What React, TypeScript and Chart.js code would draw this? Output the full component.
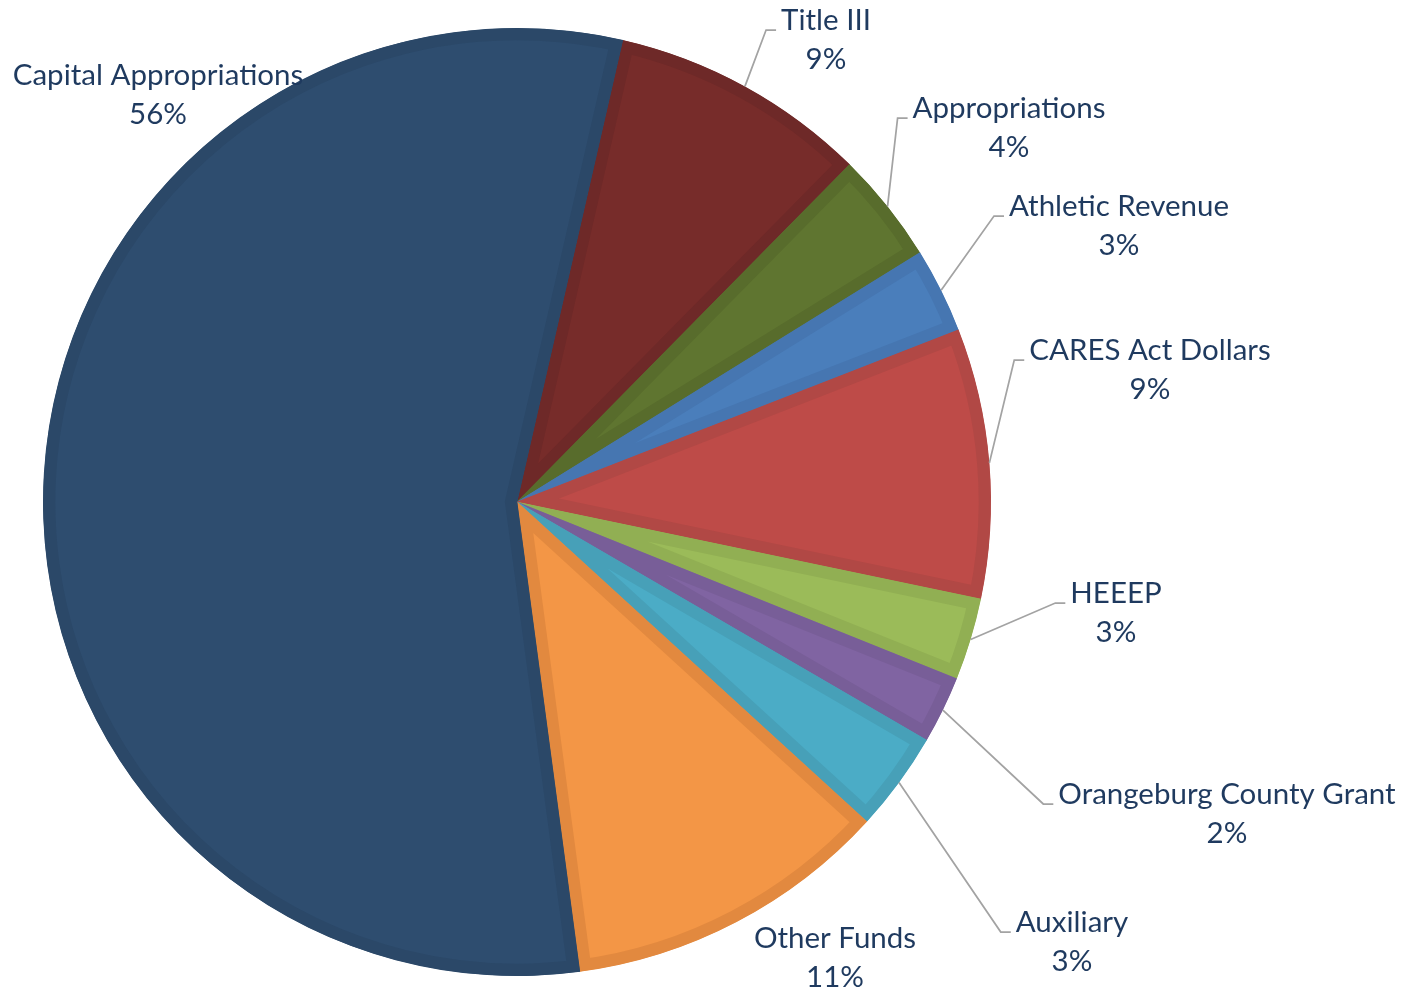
import React, { useEffect, useRef } from "react";
import { Chart, registerables } from "chart.js";

Chart.register(...registerables);

// ---- data ----
const categories = [
  "Title III",
  "Appropriations",
  "Athletic Revenue",
  "CARES Act Dollars",
  "HEEEP",
  "Orangeburg County Grant",
  "Auxiliary",
  "Other Funds",
  "Capital Appropriations",
];
const shares = [8.8, 3.8, 2.9, 9.2, 2.8, 2.3, 3.4, 11.1, 55.7];

const fillColors = [
  "#772C2A",
  "#5F7530",
  "#4A7EBB",
  "#BE4B48",
  "#9BBB59",
  "#8064A2",
  "#4BACC6",
  "#F39646",
  "#2E4D6F",
];
const edgeColors = [
  "#6E2928",
  "#586C2C",
  "#4676B1",
  "#B14845",
  "#91AF53",
  "#785E98",
  "#47A0B8",
  "#E2893F",
  "#2B4868",
];

// ---- label styling / layout (offsets from pie centre, px) ----
const TEXT_COLOR = "#1F3A5F";
const LEADER_COLOR = "#A3A3A3";
const FONT = "29.5px Lato";
const LINE_GAP = 39;
const LABEL_LAYOUT: [number, number, boolean][] = [
  [309, -482, true],
  [492, -394, true],
  [602, -296, true],
  [633, -152, true],
  [599, 91, true],
  [710, 292, true],
  [555, 420, true],
  [318, 436, false],
  [-359, -427, false],
];

const labelPlugin = {
  id: "pieLabels",
  afterDraw(chart: any) {
    const ctx = chart.ctx as CanvasRenderingContext2D;
    const meta = chart.getDatasetMeta(0);
    const total = shares.reduce((a, b) => a + b, 0);
    ctx.save();
    ctx.font = FONT;
    meta.data.forEach((arc: any, i: number) => {
      const { x, y, startAngle, endAngle, outerRadius } = arc.getProps(
        ["x", "y", "startAngle", "endAngle", "outerRadius"],
        true
      );
      const mid = (startAngle + endAngle) / 2;
      const [dx, dy, leader] = LABEL_LAYOUT[i];
      const lx = x + dx;
      const ly = y + dy;
      if (leader) {
        const w = ctx.measureText(categories[i]).width;
        const ex = lx - w / 2 - 5;
        const ey = ly + 10;
        const sx = x + Math.cos(mid) * outerRadius;
        const sy = y + Math.sin(mid) * outerRadius;
        ctx.beginPath();
        ctx.moveTo(sx, sy);
        ctx.lineTo(ex - 10, ey);
        ctx.lineTo(ex, ey);
        ctx.strokeStyle = LEADER_COLOR;
        ctx.lineWidth = 1.75;
        ctx.stroke();
      }
      ctx.fillStyle = TEXT_COLOR;
      ctx.textAlign = "center";
      ctx.textBaseline = "middle";
      ctx.fillText(categories[i], lx, ly);
      ctx.fillText(Math.round((shares[i] / total) * 100) + "%", lx, ly + LINE_GAP);
    });
    ctx.restore();
  },
};

export default function App() {
  const canvasRef = useRef<HTMLCanvasElement | null>(null);
  useEffect(() => {
    if (!canvasRef.current) return;
    const chart = new Chart(canvasRef.current, {
      type: "pie",
      data: {
        labels: categories,
        datasets: [
          {
            data: shares,
            backgroundColor: fillColors,
            borderColor: edgeColors,
            borderWidth: 12,
            borderAlign: "inner",
            borderJoinStyle: "miter",
            hoverOffset: 0,
          } as any,
        ],
      },
      options: {
        animation: false,
        responsive: false,
        rotation: 12.9,
        radius: 474,
        layout: { padding: { left: 0, right: 370, top: 14, bottom: 0 } },
        plugins: {
          legend: { display: false },
          tooltip: { enabled: false },
        },
        events: [],
      } as any,
      plugins: [labelPlugin],
    });
    return () => chart.destroy();
  }, []);
  return (
    <div style={{ position: "absolute", left: 0, top: 0, width: 1404, height: 990, background: "#fff" }}>
      <canvas ref={canvasRef} width={1404} height={990} style={{ width: 1404, height: 990 }} />
    </div>
  );
}
